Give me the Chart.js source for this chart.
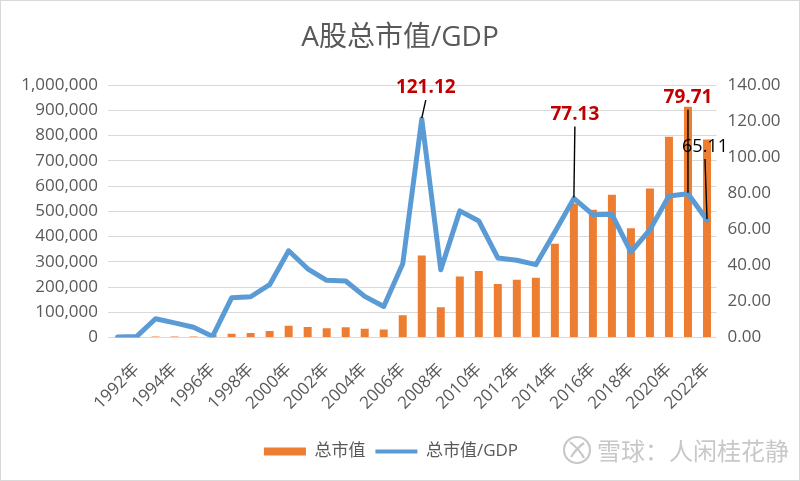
<!DOCTYPE html>
<html><head><meta charset="utf-8">
<script src="https://cdn.jsdelivr.net/npm/chart.js@4.4.1/dist/chart.umd.min.js"></script>
<style>html,body{margin:0;padding:0;background:#fff}#wrap{width:800px;height:481px;position:relative}</style>
</head><body><div id="wrap"><canvas id="c" width="800" height="481"></canvas></div>
<script>
const years = ['1991年','1992年','1993年','1994年','1995年','1996年','1997年','1998年','1999年','2000年','2001年','2002年','2003年','2004年','2005年','2006年','2007年','2008年','2009年','2010年','2011年','2012年','2013年','2014年','2015年','2016年','2017年','2018年','2019年','2020年','2021年','2022年'];
const marketCap = [0,1000,3500,3700,3500,9800,15000,18000,25500,47000,42000,37000,41000,35000,31500,88000,325000,120000,242000,263000,212000,229000,237000,371000,531000,506000,565000,433000,590000,795000,914000,784000];
const capToGdp = [0.3,0.5,10.4,8.1,5.7,0.6,22.0,22.6,29.3,48.1,38.1,31.7,31.3,22.8,17.2,40.9,121.12,37.6,70.2,64.6,44.1,42.8,40.4,58.5,77.13,68.1,68.3,47.4,59.8,78.5,79.71,65.11];
const seriesNames = ['总市值','总市值/GDP'];
const titleText = 'A股总市值/GDP';
const watermark = '雪球：人闲桂花静';
const labelledYears = ['2007年','2015年','2021年','2022年'];

const annotStyle = {
  '2007年': {dx: 4, dy: -31, color: '#C00000', bold: true},
  '2015年': {dx: 1, dy: -84, color: '#C00000', bold: true},
  '2021年': {dx: 0, dy: -96, color: '#C00000', bold: true},
  '2022年': {dx: -2, dy: -73, color: '#000000', bold: false}
};
const GREY = '#595959';
const LATIN = '"Open Sans", "Noto Sans CJK SC", sans-serif';

const extras = {
  id: 'extras',
  afterUpdate(chart) {
    const lg = chart.legend;
    if (lg && !lg._patched) {
      const d = lg.draw;
      lg.draw = function(...a) { const c = this.ctx; c.save(); c.translate(-9, 0); d.apply(this, a); c.restore(); };
      lg._patched = true;
    }
  },
  afterDatasetsDraw(chart) {
    const ctx = chart.ctx;
    const meta = chart.getDatasetMeta(1);
    ctx.save();
    labelledYears.forEach(y => {
      const i = years.indexOf(y);
      const st = annotStyle[y];
      const pt = meta.data[i];
      const lx = pt.x + st.dx, ly = pt.y + st.dy;
      ctx.strokeStyle = '#000';
      ctx.lineWidth = 1.4;
      ctx.beginPath();
      ctx.moveTo(lx, ly + 12);
      ctx.lineTo(pt.x, pt.y - 1);
      ctx.stroke();
      ctx.font = (st.bold ? 'bold 19px ' : '18px ') + LATIN;
      ctx.fillStyle = st.color;
      ctx.textAlign = 'center';
      ctx.textBaseline = 'middle';
      ctx.fillText(capToGdp[i].toFixed(2), lx, ly);
    });
    ctx.restore();
  },
  afterDraw(chart) {
    const ctx = chart.ctx;
    ctx.save();
    ctx.strokeStyle = '#c8c8c8';
    ctx.lineWidth = 2.2;
    ctx.beginPath(); ctx.arc(577, 450, 13, 0, Math.PI * 2); ctx.stroke();
    ctx.beginPath(); ctx.moveTo(570, 442); ctx.quadraticCurveTo(580, 450, 584, 458); ctx.stroke();
    ctx.beginPath(); ctx.moveTo(584, 443); ctx.quadraticCurveTo(576, 449, 571, 457); ctx.stroke();
    ctx.font = '24px "Noto Sans CJK SC", sans-serif';
    ctx.fillStyle = '#c8c8c8';
    ctx.textAlign = 'left';
    ctx.textBaseline = 'middle';
    ctx.fillText(watermark, 597, 451);
    ctx.strokeStyle = '#d9d9d9';
    ctx.lineWidth = 1;
    ctx.strokeRect(0.5, 0.5, 799, 480);
    ctx.restore();
  }
};

new Chart(document.getElementById('c'), {
  data: {
    labels: years,
    datasets: [
      {type: 'bar', label: seriesNames[0], data: marketCap, yAxisID: 'y', backgroundColor: '#ED7D31',
       barPercentage: 0.42, categoryPercentage: 1, order: 1},
      {type: 'line', label: seriesNames[1], data: capToGdp, yAxisID: 'y1', borderColor: '#5B9BD5',
       borderWidth: 5, pointRadius: 0, tension: 0, borderJoinStyle: 'round', borderCapStyle: 'round', order: 0}
    ]
  },
  options: {
    responsive: false,
    devicePixelRatio: 1,
    animation: false,
    layout: {padding: {left: 0, right: 0, top: 0, bottom: 11}},
    plugins: {
      tooltip: {enabled: false},
      title: {display: true, text: titleText, color: GREY,
        font: {family: LATIN, size: 28, weight: 'normal'}, padding: {top: 21, bottom: 30.4}},
      legend: {position: 'bottom',
        labels: {
          color: GREY, font: {family: LATIN, size: 17},
          usePointStyle: true, pointStyleWidth: 42, boxHeight: 8, padding: 10,
          sort: (a, b) => a.datasetIndex - b.datasetIndex,
          generateLabels: (chart) => chart.data.datasets.map((ds, i) => ({
            text: ds.label, datasetIndex: i,
            fillStyle: ds.type === 'bar' ? '#ED7D31' : '#5B9BD5',
            strokeStyle: ds.type === 'bar' ? '#ED7D31' : '#5B9BD5',
            lineWidth: ds.type === 'bar' ? 0 : 4,
            pointStyle: ds.type === 'bar' ? 'rect' : 'line',
            fontColor: GREY, hidden: false
          }))
        }}
    },
    scales: {
      x: {
        grid: {display: false}, border: {display: false},
        ticks: {autoSkip: false, maxRotation: 45, minRotation: 45, padding: 14, color: GREY,
          font: {family: LATIN, size: 17},
          callback: (v, i) => (i % 2 === 1 ? years[i] : null)},
        afterFit: (s) => { s.height = 95.5; }
      },
      y: {
        position: 'left', min: 0, max: 1000000,
        grid: {color: '#d9d9d9', lineWidth: 1, drawTicks: false}, border: {display: false},
        ticks: {stepSize: 100000, padding: 10, color: GREY, font: {family: LATIN, size: 17},
          callback: (v) => v.toLocaleString('en-US')},
        afterFit: (s) => { s.width = 108; }
      },
      y1: {
        position: 'right', min: 0, max: 140,
        grid: {display: false, drawTicks: false}, border: {display: false},
        ticks: {stepSize: 20, padding: 11, color: GREY, font: {family: LATIN, size: 17},
          callback: (v) => v.toFixed(2)},
        afterFit: (s) => { s.width = 83.5; }
      }
    }
  },
  plugins: [extras]
});
</script>
</body></html>
